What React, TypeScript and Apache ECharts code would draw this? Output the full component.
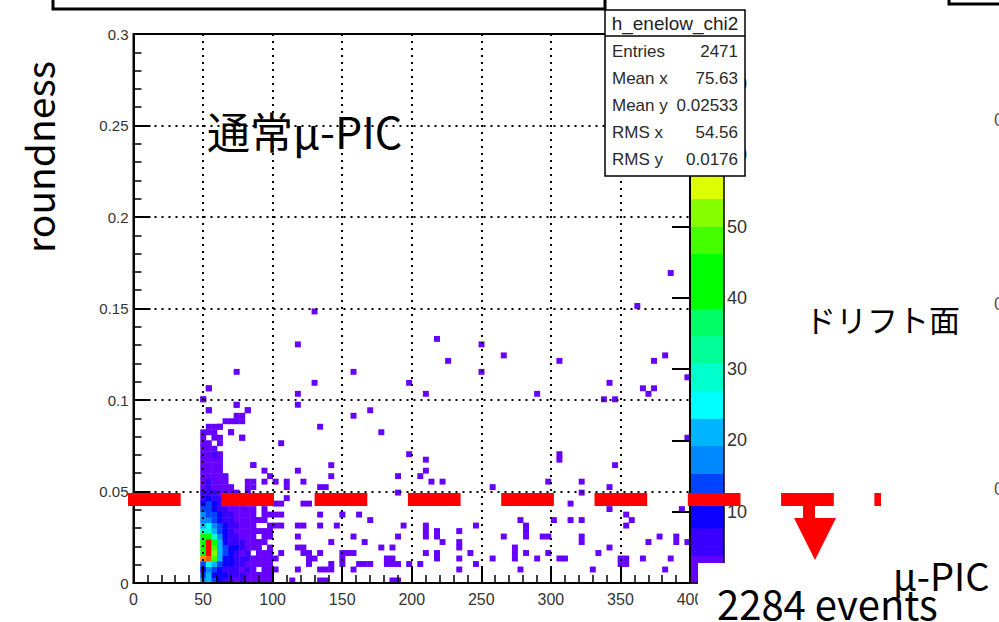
import React, { useEffect, useRef } from 'react';
import * as echarts from 'echarts';

// ---------------- data ----------------
const X_MIN = 0;
const X_MAX = 400;
const X_BINS = 100;
const Y_MIN = 0;
const Y_MAX = 0.3;
const Y_BINS = 100;
const Z_MAX = 77;
const N_CONTOURS = 20;

const xTickInterval = 50;
const yTickInterval = 0.05;
const zTickInterval = 10;

// dense core: rows = y bins from 0 upward, columns = x bins from 12 upward
const coreFirstXBin = 12;
const coreFirstYBin = 0;
const coreCounts: number[][] = [
  [16, 22, 12, 9, 6, 7, 3, 4, 2, 2, 1, 2, 1],
  [14, 20, 10, 8, 9, 5, 4, 6, 3, 1, 2, 1, 1],
  [10, 18, 14, 10, 7, 6, 5, 3, 4, 2, 0, 1, 2],
  [13, 26, 22, 12, 9, 8, 4, 6, 3, 3, 1, 2, 1],
  [68, 71, 48, 22, 11, 9, 6, 5, 4, 2, 2, 1, 1],
  [45, 76, 52, 21, 13, 10, 7, 3, 5, 0, 1, 2, 1],
  [43, 75, 50, 20, 12, 8, 9, 5, 3, 1, 2, 0, 1],
  [44, 74, 46, 22, 10, 7, 6, 4, 2, 3, 1, 1, 0],
  [40, 42, 30, 18, 10, 6, 5, 3, 2, 1, 0, 1, 1],
  [30, 28, 22, 14, 8, 5, 3, 2, 1, 2, 1, 1, 1],
  [22, 24, 18, 12, 8, 4, 4, 3, 2, 1, 0, 0, 1],
  [18, 19, 15, 10, 6, 5, 3, 2, 1, 1, 1, 1, 0],
  [16, 14, 12, 8, 5, 4, 2, 1, 2, 1, 0, 1, 1],
  [12, 13, 9, 6, 4, 3, 2, 2, 1, 1, 0, 1, 0],
  [10, 12, 8, 5, 3, 2, 1, 1, 0, 1, 0, 0, 0],
  [6, 8, 5, 4, 3, 2, 1, 1, 1, 0, 0, 0, 0],
  [5, 7, 4, 3, 2, 1, 1, 0, 1, 0, 0, 0, 0],
];

// tail above the core: rows = y bins from 17 upward, columns = x bins from 12 upward
const tailFirstXBin = 12;
const tailFirstYBin = 17;
const tailCounts: number[][] = [
  [3, 4, 3, 2, 2, 1, 0, 0, 1, 1],
  [2, 4, 2, 2, 1, 0, 0, 0, 1, 1],
  [2, 3, 2, 1, 1, 0, 0, 0, 0, 0],
  [2, 2, 1, 1, 0, 0, 0, 0, 0, 0],
  [1, 2, 1, 1, 0, 0, 0, 0, 0, 1],
  [1, 2, 2, 1, 0, 0, 0, 0, 0, 0],
  [2, 1, 5, 1, 0, 0, 0, 0, 0, 0],
  [1, 2, 1, 0, 0, 0, 0, 0, 0, 0],
  [1, 1, 0, 1, 0, 0, 0, 0, 0, 0],
  [1, 0, 1, 1, 0, 0, 0, 1, 0, 0],
  [1, 1, 1, 0, 0, 1, 0, 0, 0, 0],
  [0, 1, 1, 1, 0, 0, 0, 0, 0, 0],
  [0, 0, 0, 0, 1, 1, 1, 1, 0, 0],
  [0, 0, 0, 0, 0, 0, 1, 1, 0, 0],
  [0, 1, 0, 0, 0, 0, 0, 0, 1, 0],
  [0, 0, 0, 0, 0, 0, 1, 0, 0, 0],
  [1, 0, 0, 0, 0, 0, 0, 0, 0, 0],
  [0, 0, 0, 0, 0, 0, 0, 0, 0, 0],
  [0, 1, 0, 0, 0, 0, 0, 0, 0, 0],
];

// isolated single-entry bins: [x bin, y bin]
const sparseBins: [number, number][] = [
  [96, 56], [32, 49], [90, 50], [29, 43], [54, 44], [62, 43], [56, 40], [66, 41], [76, 40], [93, 40],
  [95, 41], [39, 38], [18, 38], [62, 38], [99, 37], [32, 36], [49, 36], [85, 36], [29, 34], [52, 34],
  [72, 34], [91, 35], [92, 34], [93, 35], [13, 35], [12, 33], [29, 32], [18, 32], [84, 33], [86, 33],
  [42, 31], [13, 31], [20, 31], [39, 30], [33, 28], [15, 28], [17, 27], [19, 26], [44, 27], [99, 26],
  [26, 25], [49, 23], [52, 22], [76, 22], [76, 23], [35, 21], [86, 21], [21, 21], [23, 20], [29, 20],
  [52, 20], [35, 19], [47, 19], [51, 19], [24, 19], [23, 18], [25, 18], [27, 17], [27, 18], [30, 18],
  [33, 17], [34, 17], [53, 18], [55, 18], [64, 17], [74, 18], [80, 18], [85, 17], [80, 16], [47, 16],
  [27, 15], [26, 14], [25, 14], [30, 14], [31, 14], [78, 14], [85, 13], [98, 13], [26, 12], [25, 12],
  [33, 12], [37, 12], [40, 12], [88, 12], [42, 11], [69, 11], [75, 11], [78, 11], [89, 11], [80, 11],
  [26, 10], [25, 10], [29, 10], [30, 10], [33, 10], [36, 10], [48, 10], [52, 10], [52, 9], [52, 8],
  [61, 10], [70, 9], [70, 10], [88, 10], [29, 8], [39, 8], [47, 8], [54, 8], [54, 9], [55, 7],
  [58, 9], [58, 6], [58, 7], [66, 8], [70, 8], [73, 8], [74, 8], [80, 7], [80, 8], [94, 8],
  [97, 7], [97, 8], [29, 6], [30, 6], [35, 7], [41, 7], [44, 6], [46, 6], [26, 5], [30, 5],
  [31, 4], [31, 5], [32, 4], [33, 5], [37, 5], [38, 5], [39, 5], [52, 5], [54, 4], [54, 5],
  [58, 4], [60, 5], [64, 4], [68, 4], [68, 5], [68, 6], [70, 5], [72, 4], [74, 5], [76, 4],
  [77, 4], [83, 5], [85, 6], [87, 3], [87, 4], [88, 3], [88, 4], [91, 4], [92, 7], [96, 4],
  [99, 7], [25, 4], [45, 3], [46, 3], [47, 3], [45, 4], [46, 4], [40, 3], [41, 3], [42, 3],
  [31, 3], [35, 3], [33, 2], [34, 2], [35, 2], [37, 3], [37, 4], [39, 2], [49, 3], [51, 3],
  [58, 2], [61, 3], [69, 2], [82, 2], [95, 2], [25, 2], [29, 2], [28, 0], [33, 0], [34, 0],
  [46, 0], [47, 0],
];

const statsTitle = 'h_enelow_chi2';
const statsLabels = ['Entries', 'Mean x', 'Mean y', 'RMS x', 'RMS y'];
const statsValues = ['2471', '75.63', '0.02533', '54.56', '0.0176'];

// ROOT-like palette, one colour per contour band
const palette = [
  '#6600ff', '#3a00ff', '#0c00ff', '#0044ff', '#0088ff', '#00b4ff', '#00ffff', '#00ffcc', '#00ff99', '#00ff66',
  '#00ff00', '#00ff00', '#44ff00', '#88ff00', '#ddff00', '#ffee00', '#ffbb00', '#ff8800', '#ff5500', '#ff0000',
];

// ---------------- helpers ----------------
const xBinW = (X_MAX - X_MIN) / X_BINS;
const yBinW = (Y_MAX - Y_MIN) / Y_BINS;

function colorOf(c: number) {
  const idx = Math.min(N_CONTOURS - 1, Math.floor((c * N_CONTOURS) / Z_MAX));
  return palette[idx];
}

function buildCells() {
  const out: number[][] = [];
  const push = (k: number, j: number, c: number) => {
    if (c > 0) out.push([X_MIN + k * xBinW, Y_MIN + j * yBinW, c]);
  };
  sparseBins.forEach(([k, j]) => push(k, j, 1));
  tailCounts.forEach((row, r) => row.forEach((c, i) => push(tailFirstXBin + i, tailFirstYBin + r, c)));
  coreCounts.forEach((row, r) => row.forEach((c, i) => push(coreFirstXBin + i, coreFirstYBin + r, c)));
  return out;
}

function buildBands() {
  const out: number[][] = [];
  for (let i = 0; i < N_CONTOURS; i++) {
    out.push([(i * Z_MAX) / N_CONTOURS, ((i + 1) * Z_MAX) / N_CONTOURS, i]);
  }
  return out;
}

const SLIDE_FONT = '"Noto Sans CJK JP", "Noto Sans", sans-serif';
const AXIS_FONT = '"Liberation Sans", Arial, sans-serif';

export default function App() {
  const ref = useRef<HTMLDivElement>(null);

  useEffect(() => {
    if (!ref.current) return;
    const chart = echarts.init(ref.current, undefined, { renderer: 'svg' });
    const cells = buildCells();
    const bands = buildBands();

    const axisCommon = {
      axisLine: { show: true, onZero: false, lineStyle: { color: '#000', width: 2 } },
      axisTick: { show: true, inside: true, length: 16, lineStyle: { color: '#000', width: 2 } },
      minorTick: { show: true, splitNumber: 5, length: 8, lineStyle: { color: '#000', width: 1.5 } },
      splitLine: { show: true, lineStyle: { color: '#000', width: 2, type: [2, 5] } },
      z: 5,
    };

    const statsGraphics: any[] = [
      {
        type: 'rect', z: 100,
        shape: { x: 605, y: 10, width: 140, height: 166 },
        style: { fill: '#fff', stroke: '#000', lineWidth: 1.5 },
      },
      {
        type: 'line', z: 101,
        shape: { x1: 605, y1: 36, x2: 745, y2: 36 },
        style: { stroke: '#000', lineWidth: 1.5 },
      },
      {
        type: 'text', z: 101, x: 675, y: 23,
        style: { text: statsTitle, align: 'center', verticalAlign: 'middle', fontSize: 19, fontFamily: AXIS_FONT, fill: '#222' },
      },
    ];
    statsLabels.forEach((lab, i) => {
      const y = 51 + i * 27;
      statsGraphics.push({
        type: 'text', z: 101, x: 612, y,
        style: { text: lab, align: 'left', verticalAlign: 'middle', fontSize: 17, fontFamily: AXIS_FONT, fill: '#2a2a2a' },
      });
      statsGraphics.push({
        type: 'text', z: 101, x: 738, y,
        style: { text: statsValues[i], align: 'right', verticalAlign: 'middle', fontSize: 17, fontFamily: AXIS_FONT, fill: '#2a2a2a' },
      });
    });

    const option: any = {
      animation: false,
      backgroundColor: '#fff',
      grid: [
        { left: 133.5, top: 34, width: 556.5, height: 549, show: true, borderColor: '#000', borderWidth: 2, backgroundColor: 'transparent', z: 4 },
        { left: 690, top: 34, width: 34, height: 549, show: true, borderColor: '#000', borderWidth: 1.5, backgroundColor: 'transparent', z: 4 },
      ],
      xAxis: [
        {
          type: 'value', gridIndex: 0, min: X_MIN, max: X_MAX, interval: xTickInterval,
          ...axisCommon,
          axisLabel: { color: '#333', fontSize: 16, fontFamily: AXIS_FONT, margin: 8 },
        },
        { type: 'value', gridIndex: 1, min: 0, max: 1, show: false },
      ],
      yAxis: [
        {
          type: 'value', gridIndex: 0, min: Y_MIN, max: Y_MAX, interval: yTickInterval,
          ...axisCommon,
          axisTick: { show: true, inside: true, length: 17, lineStyle: { color: '#000', width: 2 } },
          axisLabel: { color: '#333', fontSize: 15, fontFamily: AXIS_FONT, margin: 5 },
        },
        {
          type: 'value', gridIndex: 1, min: 0, max: Z_MAX, interval: zTickInterval, position: 'right',
          axisLine: { show: true, lineStyle: { color: '#000', width: 1.5 } },
          axisTick: { show: true, inside: true, length: 18, lineStyle: { color: '#000', width: 2 } },
          splitLine: { show: false },
          axisLabel: {
            color: '#333', fontSize: 18, fontFamily: AXIS_FONT, margin: 3,
            formatter: (v: number) => (Math.round(v) % zTickInterval === 0 ? String(Math.round(v)) : ''),
          },
          z: 5,
        },
      ],
      series: [
        {
          type: 'custom', xAxisIndex: 0, yAxisIndex: 0, z: 1, silent: true,
          encode: { x: 0, y: 1 },
          data: cells,
          renderItem: (_p: any, api: any) => {
            const x0 = api.value(0);
            const y0 = api.value(1);
            const c = api.value(2);
            const a = api.coord([x0, y0 + yBinW]);
            const b = api.coord([x0 + xBinW, y0]);
            return {
              type: 'rect',
              shape: { x: a[0], y: a[1], width: b[0] - a[0] + 0.4, height: b[1] - a[1] + 0.4 },
              style: { fill: colorOf(c) },
            };
          },
        },
        {
          type: 'custom', xAxisIndex: 1, yAxisIndex: 1, z: 1, silent: true,
          encode: { y: [0, 1] },
          data: bands,
          renderItem: (_p: any, api: any) => {
            const lo = api.value(0);
            const hi = api.value(1);
            const i = api.value(2);
            const a = api.coord([0, hi]);
            const b = api.coord([1, lo]);
            return {
              type: 'rect',
              shape: { x: a[0], y: a[1], width: b[0] - a[0], height: b[1] - a[1] + 0.4 },
              style: { fill: palette[i] },
            };
          },
        },
      ],
      graphic: [
        // slide box at top
        { type: 'rect', z: 50, shape: { x: 53, y: -10, width: 552, height: 19 }, style: { fill: 'none', stroke: '#000', lineWidth: 3 } },
        { type: 'polyline', z: 50, shape: { points: [[949, -3], [949, 4], [1003, 4]] }, style: { fill: 'none', stroke: '#000', lineWidth: 3 } },
        ...statsGraphics,
        // white text box covering lower right
        { type: 'rect', z: 60, shape: { x: 698, y: 563, width: 301, height: 59 }, style: { fill: '#fff' } },
        // red dashed cut line
        {
          type: 'line', z: 70,
          shape: { x1: 128, y1: 499.5, x2: 881, y2: 499.5 },
          style: { stroke: '#ff0000', lineWidth: 13, lineDash: [52.7, 40.6] },
        },
        { type: 'rect', z: 70, shape: { x: 803, y: 505, width: 12, height: 15 }, style: { fill: '#ff0000' } },
        { type: 'polygon', z: 70, shape: { points: [[794, 518], [836, 518], [815, 560]] }, style: { fill: '#ff0000' } },
        // slide texts
        {
          type: 'text', z: 80, x: 38, y: 157, rotation: Math.PI / 2,
          style: { text: 'roundness', align: 'center', verticalAlign: 'middle', fontSize: 39, fontFamily: SLIDE_FONT, fill: '#000' },
        },
        {
          type: 'text', z: 80, x: 207, y: 130,
          style: { text: '通常μ-PIC', align: 'left', verticalAlign: 'middle', fontSize: 43, fontFamily: SLIDE_FONT, fill: '#000' },
        },
        {
          type: 'text', z: 80, x: 805, y: 318,
          style: { text: 'ドリフト面', align: 'left', verticalAlign: 'middle', fontSize: 31, fontFamily: SLIDE_FONT, fill: '#000' },
        },
        {
          type: 'text', z: 80, x: 893, y: 574,
          style: { text: 'μ-PIC', align: 'left', verticalAlign: 'middle', fontSize: 38, fontFamily: SLIDE_FONT, fill: '#000' },
        },
        {
          type: 'text', z: 80, x: 717, y: 603,
          style: { text: '2284 events', align: 'left', verticalAlign: 'middle', fontSize: 40, fontFamily: SLIDE_FONT, fill: '#000' },
        },
        // clipped tick digits of the neighbouring plot at the right edge
        { type: 'text', z: 80, x: 994, y: 120, style: { text: '0', align: 'left', verticalAlign: 'middle', fontSize: 18, fontFamily: AXIS_FONT, fill: '#555' } },
        { type: 'text', z: 80, x: 994, y: 304, style: { text: '0', align: 'left', verticalAlign: 'middle', fontSize: 18, fontFamily: AXIS_FONT, fill: '#555' } },
        { type: 'text', z: 80, x: 994, y: 489, style: { text: '0', align: 'left', verticalAlign: 'middle', fontSize: 18, fontFamily: AXIS_FONT, fill: '#555' } },
      ],
    };

    chart.setOption(option);
    return () => chart.dispose();
  }, []);

  return <div ref={ref} style={{ position: 'absolute', left: 0, top: 0, width: 999, height: 622 }} />;
}
